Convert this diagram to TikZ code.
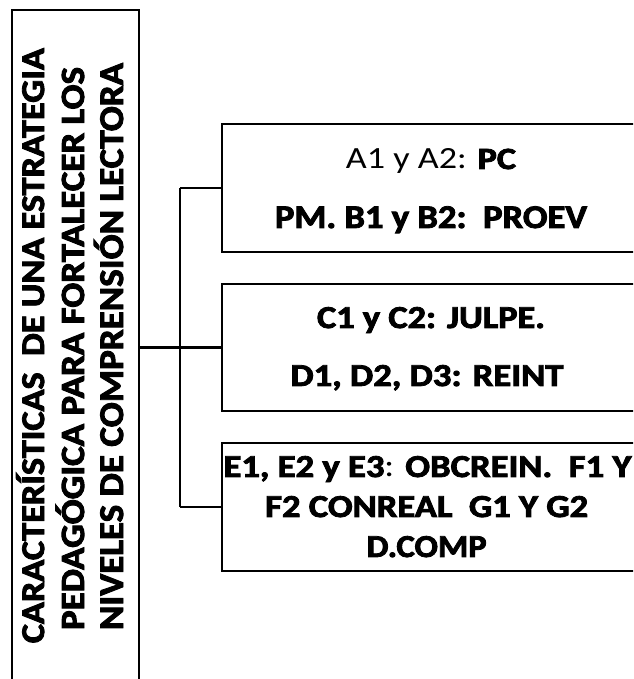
\documentclass[tikz,border=0pt]{standalone}
\usepackage{fontspec}
\usepackage{graphicx}
\setmainfont{Carlito}[BoldFeatures={FakeBold=2.5}]
\newcommand\fitline[3]{\resizebox{#1pt}{#2pt}{\smash{#3}\vphantom{X}}}
\begin{document}
\begin{tikzpicture}[x=1pt,y=1pt,
  frame/.style={draw=black,line width=2.4pt,rectangle,inner sep=0pt},
  conn/.style={draw=black,line width=2.2pt},
  linetxt/.style={inner sep=0pt,anchor=base,font=\bfseries\fontsize{30}{36}\selectfont},
  vlinetxt/.style={linetxt,rotate=90}]
\useasboundingbox (0,0) rectangle (633,679);
\fill[white] (0,0) rectangle (633,679);
\clip (0,0) rectangle (633,679);
% left box (extends beyond the bottom edge)
\node[frame,minimum width=127pt,minimum height=700pt,anchor=north west] (L) at (11,670) {};
\node[vlinetxt] (L1) at (44,333.3) {\fitline{595}{21.5}{CARACTERÍSTICAS\ \ DE UNA ESTRATEGIA}};
\node[vlinetxt] (L2) at (84,330.5) {\fitline{563}{22}{PEDAGÓGICA PARA FORTALECER LOS}};
\node[vlinetxt] (L3) at (123,332.5) {\fitline{567}{22.5}{NIVELES DE COMPRENSIÓN LECTORA}};
% right boxes (extend beyond the right edge)
\node[frame,minimum width=422pt,minimum height=128pt,anchor=west] (b1) at (221,491) {};
\node[frame,minimum width=422pt,minimum height=127pt,anchor=west] (b2) at (221,331.5) {};
\node[frame,minimum width=422pt,minimum height=128pt,anchor=west] (b3) at (221,172) {};
\node[linetxt] (t11) at (431,510) {\fitline{170}{20}{\mdseries A1 y A2: \bfseries PC}};
\node[linetxt] (t12) at (431,451) {\fitline{312}{21.5}{PM. B1 y B2:\ \ PROEV}};
\node[linetxt] (t21) at (431,351) {\fitline{228}{20.7}{C1 y C2: JULPE.}};
\node[linetxt] (t22) at (427,293) {\fitline{273}{20.7}{D1, D2, D3: REINT}};
\node[linetxt] (t31) at (427.5,202) {\fitline{408}{20.7}{E1, E2 y E3\mdseries:\bfseries{} OBCREIN.\ \ F1 Y}};
\node[linetxt] (t32) at (426.7,162) {\fitline{323}{20.7}{F2 CONREAL\ \ G1 Y G2}};
\node[linetxt] (t33) at (426.7,122) {\fitline{120}{20.7}{D.COMP}};
% connectors
\coordinate (trunk) at (180,0);
\draw[conn] (L.east |- b2.west) -- (b2.west);
\draw[conn] (trunk |- b1.west) -- (trunk |- b3.west);
\draw[conn] (trunk |- b1.west) -- (b1.west);
\draw[conn] (trunk |- b3.west) -- (b3.west);
\end{tikzpicture}
\end{document}
